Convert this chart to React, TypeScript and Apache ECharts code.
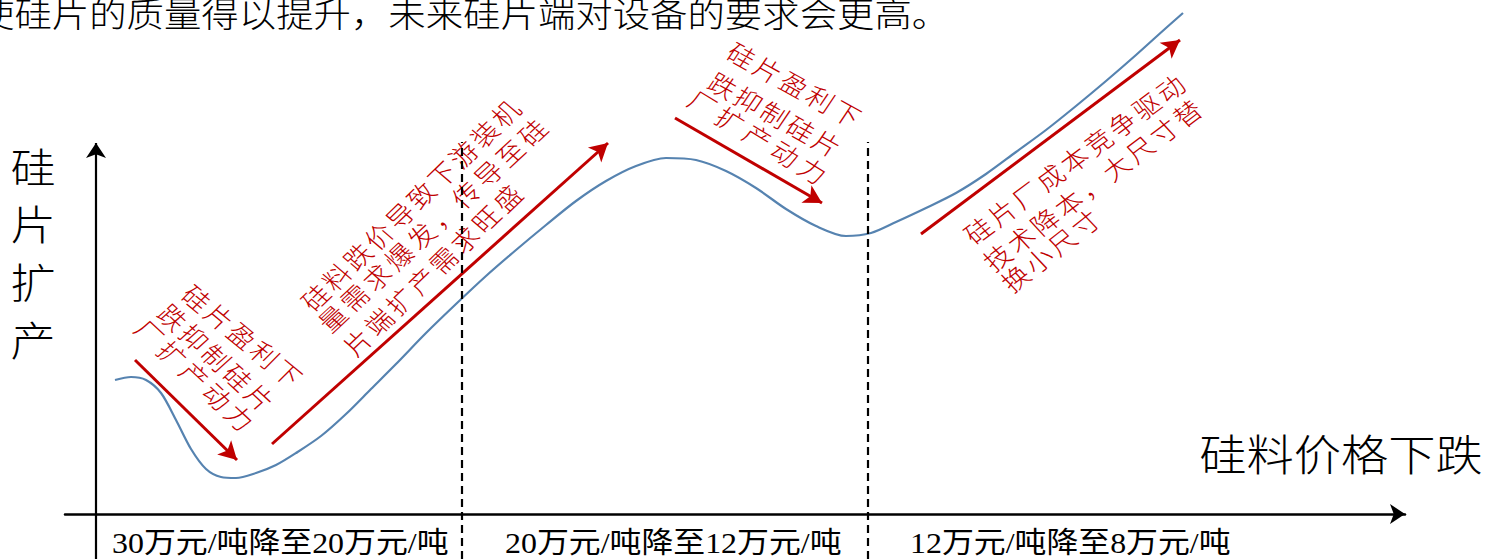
import React, { useEffect, useRef } from 'react';
import * as echarts from 'echarts';

// ---- data (schematic units: x = price-fall progress, y = wafer capacity expansion) ----
const curveX = [19, 35, 50, 65, 80, 95, 110, 125, 140, 160, 180, 200, 225, 250, 275, 300, 330, 360, 390, 420, 450, 480, 510, 540, 570, 600, 630, 660, 690, 720, 750, 775, 800, 830, 860, 890, 920, 950, 980, 1010, 1040, 1070, 1087];
const curveY = [134, 137, 134, 121, 94, 65, 45, 37, 36, 41, 49, 61, 78, 100, 125, 150, 181, 210, 238, 264, 289, 313, 333, 348, 356, 354, 343, 326, 305, 288, 278, 281, 292, 306, 321, 340, 362, 384, 408, 433, 459, 486, 501];

const arrowFrom = [[39, 154], [176, 70], [579, 396], [825, 280]];
const arrowTo = [[141, 54], [512, 371], [726, 311], [1084, 474]];

const dividerX = [366, 772];
const dividerTop = 372;
const xMin = -31;
const xMax = 1309;
const yMin = -45;
const yMax = 514;
const yArrowTop = 371;

const priceRanges = ['30万元/吨降至20万元/吨', '20万元/吨降至12万元/吨', '12万元/吨降至8万元/吨'];
const headline = '使硅片的质量得以提升，未来硅片端对设备的要求会更高。';
const yTitle = '硅片扩产';
const xTitle = '硅料价格下跌';
const note1 = ['硅片盈利下', '跌抑制硅片', '厂扩产动力'];
const note2 = ['硅料跌价导致下游装机', '量需求爆发，传导至硅', '片端扩产需求旺盛'];
const note3 = ['硅片盈利下', '跌抑制硅片', '厂扩产动力'];
const note4 = ['硅片厂成本竞争驱动', '技术降本，大尺寸替', '换小尺寸'];

// ---- layout (pixel positions of first / last glyph centre of each annotation line) ----
const S = 1.1; // horizontal stretch of the original picture
const CJK = "'Noto Sans CJK SC', sans-serif";
const SERIF = "'Liberation Serif', 'Noto Sans CJK SC', serif";
const RED = '#c00000';

const note1Pos = [[[197, 298], [288, 373]], [[173, 317], [260, 397]], [[150, 333], [240, 417]]];
const note2Pos = [[[315, 297], [505, 113]], [[332, 318], [532, 132]], [[357, 342], [507, 198]]];
const note3Pos = [[[742, 55], [847, 113]], [[723, 85], [827, 143]], [[703, 103], [813, 170]]];
const note4Pos = [[[978, 230], [1170, 88]], [[997, 257], [1187, 113]], [[1015, 278], [1085, 223]]];

function noteGlyphs(lines: string[], pos: number[][][]) {
  const out: any[] = [];
  lines.forEach((line, li) => {
    const chars = Array.from(line);
    const [a, b] = pos[li];
    const n = chars.length;
    const dx = b[0] - a[0];
    const dy = b[1] - a[1];
    const rotation = Math.atan2(-dy, dx / S);
    chars.forEach((ch, i) => {
      const t = n > 1 ? i / (n - 1) : 0;
      out.push({
        type: 'text',
        x: (a[0] + dx * t) / S,
        y: a[1] + dy * t,
        rotation,
        silent: true,
        style: {
          text: ch,
          fontSize: 25,
          fontWeight: 300,
          fontFamily: CJK,
          fill: RED,
          align: 'center',
          verticalAlign: 'middle',
          textAlign: 'center',
          textVerticalAlign: 'middle',
        },
      });
    });
  });
  return out;
}

const labelLeft = [112, 505, 910];

function buildOption() {
  const curve = curveX.map((x, i) => [x, curveY[i]]);
  const texts: any[] = [
    {
      type: 'text', x: -23 / S, y: 12, silent: true,
      style: { text: headline, fontSize: 34, fontWeight: 300, fontFamily: CJK, fill: '#000', align: 'left', verticalAlign: 'middle', textAlign: 'left', textVerticalAlign: 'middle' },
    },
    {
      type: 'text', x: 33 / S, y: 251, silent: true,
      style: { text: yTitle.split('').join('\n'), fontSize: 41, fontWeight: 300, lineHeight: 57.7, fontFamily: CJK, fill: '#000', align: 'center', verticalAlign: 'middle', textAlign: 'center', textVerticalAlign: 'middle' },
    },
    {
      type: 'text', x: 1341 / S, y: 452, silent: true,
      style: { text: xTitle, fontSize: 43, fontWeight: 300, fontFamily: CJK, fill: '#000', align: 'center', verticalAlign: 'middle', textAlign: 'center', textVerticalAlign: 'middle' },
    },
    ...priceRanges.map((t, i) => ({
      type: 'text', x: labelLeft[i] / S, y: 543, silent: true,
      style: { text: t, fontSize: 29, fontFamily: SERIF, fill: '#000', align: 'left', verticalAlign: 'middle', textAlign: 'left', textVerticalAlign: 'middle' },
    })),
    ...noteGlyphs(note1, note1Pos),
    ...noteGlyphs(note2, note2Pos),
    ...noteGlyphs(note3, note3Pos),
    ...noteGlyphs(note4, note4Pos),
  ];

  return {
    animation: false,
    backgroundColor: '#fff',
    grid: { left: 65, right: 90, top: 0, bottom: 0, containLabel: false },
    xAxis: {
      type: 'value', min: xMin, max: xMax,
      axisLine: { show: true, onZero: true, symbol: ['none', 'arrow'], symbolSize: [15, 15], lineStyle: { color: '#000', width: 2.5 } },
      axisTick: { show: false }, axisLabel: { show: false }, splitLine: { show: false },
    },
    yAxis: {
      type: 'value', min: yMin, max: yMax,
      axisLine: { show: false }, axisTick: { show: false }, axisLabel: { show: false }, splitLine: { show: false },
    },
    series: [
      {
        type: 'line',
        data: curve,
        smooth: 0.3,
        showSymbol: false,
        clip: false,
        silent: true,
        lineStyle: { color: '#5683b0', width: 2.2 },
        markLine: {
          silent: true,
          symbol: ['none', 'arrow'],
          symbolSize: [15, 18],
          label: { show: false },
          lineStyle: { color: RED, width: 3, type: 'solid' },
          data: arrowFrom.map((f, i) => [{ coord: f }, { coord: arrowTo[i] }]),
        },
      },
      {
        type: 'line',
        data: [],
        silent: true,
        markLine: {
          silent: true,
          symbol: ['none', 'none'],
          label: { show: false },
          lineStyle: { color: '#000', width: 2.2, type: [8, 5] },
          data: dividerX.map((x) => [{ coord: [x, yMin] }, { coord: [x, dividerTop] }]),
        },
      },
      {
        type: 'line',
        data: [],
        silent: true,
        markLine: {
          silent: true,
          symbol: ['none', 'arrow'],
          symbolSize: [15, 15],
          label: { show: false },
          lineStyle: { color: '#000', width: 2.2, type: 'solid' },
          data: [[{ coord: [0, yMin] }, { coord: [0, yArrowTop] }]],
        },
      },
    ],
    graphic: [{ type: 'group', x: 0, y: 0, scaleX: S, silent: true, children: texts }],
  };
}

export default function App() {
  const ref = useRef<HTMLDivElement>(null);
  useEffect(() => {
    const chart = echarts.init(ref.current!, null, { renderer: 'svg' });
    chart.setOption(buildOption() as any);
    return () => chart.dispose();
  }, []);
  return (
    <div
      ref={ref}
      style={{ position: 'fixed', left: 0, top: 0, width: 1495, height: 559, background: '#fff' }}
    />
  );
}
